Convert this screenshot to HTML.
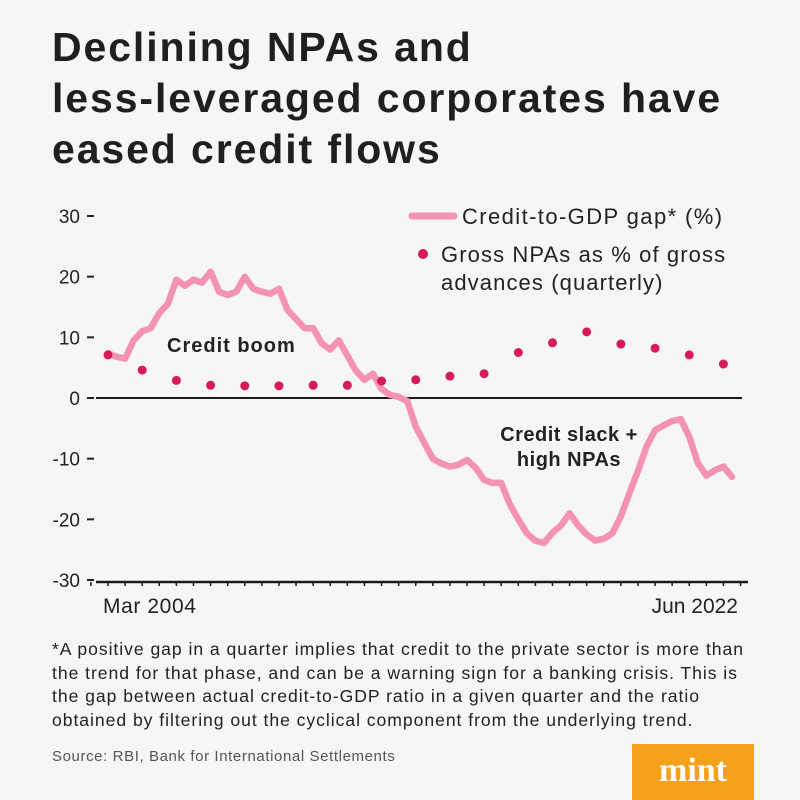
<!DOCTYPE html>
<html><head><meta charset="utf-8"><style>
body{margin:0;background:#f6f6f6;}
#wrap{position:relative;width:800px;height:800px;background:#f6f6f6;font-family:"Liberation Sans",sans-serif;overflow:hidden}
h1{position:absolute;left:52px;top:22px;margin:0;font-size:41px;line-height:51px;font-weight:bold;color:#1f1f1f;letter-spacing:1.9px;white-space:nowrap}
.foot{position:absolute;left:52px;top:638px;font-size:17.6px;line-height:23.5px;color:#222;white-space:nowrap;letter-spacing:0.95px}
.src{position:absolute;left:52px;top:748px;font-size:15px;color:#555;letter-spacing:0.6px}
.logo{position:absolute;left:632px;top:744px;width:122px;height:56px;background:#f5a11c;color:#fff;font-family:"Liberation Serif",serif;font-weight:bold;font-size:34px;text-align:center;line-height:54px}
</style></head><body>
<div id="wrap">
<h1>Declining NPAs and<br>less-leveraged corporates have<br>eased credit flows</h1>
<svg id="chart" width="800" height="800" style="position:absolute;left:0;top:0"></svg>
<div class="foot">*A positive gap in a quarter implies that credit to the private sector is more than<br>the trend for that phase, and can be a warning sign for a banking crisis. This is<br>the gap between actual credit-to-GDP ratio in a given quarter and the ratio<br>obtained by filtering out the cyclical component from the underlying trend.</div>
<div class="src">Source: RBI, Bank for International Settlements</div>
<div class="logo">mint</div>
</div>
<script>
const yTicks=[30,20,10,0,-10,-20,-30];
const xLabels=["Mar 2004","Jun 2022"];
const gapValues=[7.4,6.8,6.5,9.5,11,11.5,14,15.5,19.5,18.5,19.5,19,20.8,17.5,17,17.5,20,18,17.5,17.2,18,14.5,13,11.5,11.5,9,8,9.5,7,4.5,3,4,1.5,0.5,0.2,-0.5,-4.7,-7.4,-10,-10.8,-11.3,-11,-10.2,-11.5,-13.5,-14,-14,-17.5,-20,-22.3,-23.5,-23.9,-22.2,-21,-19,-21,-22.5,-23.5,-23.2,-22.3,-19.5,-15.7,-12,-8,-5.3,-4.5,-3.8,-3.5,-6.4,-10.7,-12.8,-11.9,-11.3,-13];
const npaValues=[7.1,4.6,2.9,2.1,2.0,2.0,2.1,2.1,2.8,3.0,3.6,4.0,7.5,9.1,10.9,8.9,8.2,7.1,5.6];
const svg=document.getElementById('chart');const NS='http://www.w3.org/2000/svg';
const x0=108,x1=732,nQ=gapValues.length-1;
const xs=q=>x0+(x1-x0)*q/nQ;
const ys=v=>398-v*182/30;
function mk(t,a,txt){const e=document.createElementNS(NS,t);for(const k in a)e.setAttribute(k,a[k]);if(txt!==undefined)e.textContent=txt;svg.appendChild(e);return e;}
const F='Liberation Sans, sans-serif';
yTicks.forEach(v=>{
 const t=mk('text',{x:80,y:ys(v)+7,'text-anchor':'end','font-size':19,fill:'#222','font-family':F},String(v));
 
 
 const l=mk('line',{x1:87,x2:94,y1:ys(v),y2:ys(v),stroke:'#222','stroke-width':2});
 
 
});
const zl=mk('line',{x1:96,x2:742,y1:ys(0),y2:ys(0),stroke:'#1a1a1a','stroke-width':2});


const xa=mk('line',{x1:96,x2:748,y1:ys(-30)+2,y2:ys(-30)+2,stroke:'#1a1a1a','stroke-width':2.5});


for(let q=-2;q<=nQ+1;q+=2){const t=mk('line',{x1:xs(q),x2:xs(q),y1:ys(-30)+2,y2:ys(-30)+6,stroke:'#1a1a1a','stroke-width':1.5});
 
 }
const l1=mk('text',{x:103,y:613,'font-size':21,fill:'#222','font-family':F,'letter-spacing':0.6},xLabels[0]);


const l2=mk('text',{x:738,y:613,'text-anchor':'end','font-size':21,fill:'#222','font-family':F},xLabels[1]);


const p=mk('path',{d:gapValues.map((v,i)=>(i?'L':'M')+xs(i).toFixed(1)+','+ys(v).toFixed(1)).join(''),fill:'none',stroke:'#f392b5','stroke-width':6.5,'stroke-linejoin':'round','stroke-linecap':'round'});


npaValues.forEach((v,i)=>{const c=mk('circle',{cx:xs(i*4),cy:ys(v),r:4.5,fill:'#d71a5c'});
 
 });
const a1=mk('text',{x:167,y:352,'font-size':20,'font-weight':'bold',fill:'#222','font-family':F,'letter-spacing':1},'Credit boom');


const a2=mk('text',{x:569,y:441,'text-anchor':'middle','font-size':20,'font-weight':'bold',fill:'#222','font-family':F,'letter-spacing':0.5},'Credit slack +');


const a3=mk('text',{x:569,y:466,'text-anchor':'middle','font-size':20,'font-weight':'bold',fill:'#222','font-family':F,'letter-spacing':0.5},'high NPAs');


const lg=mk('line',{x1:412,x2:454,y1:216,y2:216,stroke:'#f392b5','stroke-width':7,'stroke-linecap':'round'});


const lt=mk('text',{x:462,y:224,'font-size':22,fill:'#222','font-family':F,'letter-spacing':1.4},'Credit-to-GDP gap* (%)');


const ld=mk('circle',{cx:423,cy:254,r:5,fill:'#d71a5c'});


const lt2=mk('text',{x:441,y:262,'font-size':22,fill:'#222','font-family':F,'letter-spacing':1.1},'Gross NPAs as % of gross');


const lt3=mk('text',{x:441,y:290,'font-size':22,fill:'#222','font-family':F,'letter-spacing':1.1},'advances  (quarterly)');


</script>
</body></html>
